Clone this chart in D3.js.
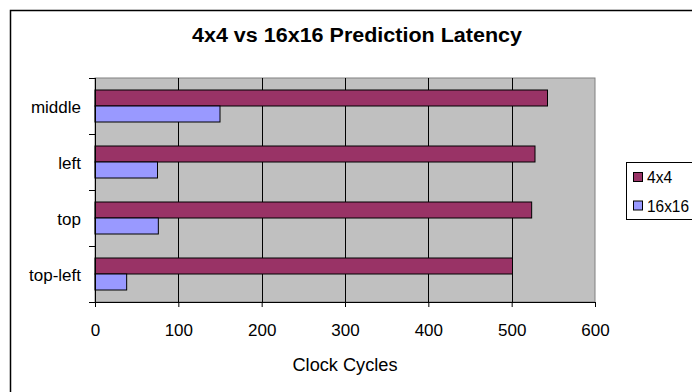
<!DOCTYPE html>
<html>
<head>
<meta charset="utf-8">
<script src="https://cdn.jsdelivr.net/npm/d3@7"></script>
<style>
  html, body { margin: 0; padding: 0; background: #fff; }
  svg { display: block; }
  text { font-family: "Liberation Sans", Arial, sans-serif; fill: #000; }
</style>
</head>
<body>
<svg id="chart" width="692" height="392"></svg>
<script>
// ---- data ----
const categories = ["middle", "left", "top", "top-left"];
const seriesNames = ["4x4", "16x16"];
const values4x4 = [543, 528, 524, 501];
const values16x16 = [150, 75, 76, 38];
const xTicks = [0, 100, 200, 300, 400, 500, 600];
const seriesColors = ["#993366", "#9999FF"];
const titleText = "4x4 vs 16x16 Prediction Latency";
const xTitle = "Clock Cycles";

const seriesValues = [values4x4, values16x16];
const rows = categories.map((c, i) => ({
  cat: c,
  vals: seriesNames.map((s, j) => ({ series: s, value: seriesValues[j][i], color: seriesColors[j] }))
}));

const svg = d3.select("#chart");

// outer border
svg.append("rect")
  .attr("x", 10.5).attr("y", 10.5)
  .attr("width", 700).attr("height", 400)
  .attr("fill", "none").attr("stroke", "#000").attr("stroke-width", 1.5);

const plot = { left: 95, right: 595, top: 78, bottom: 302 };

const x = d3.scaleLinear().domain([0, 600]).range([plot.left, plot.right]);
const y = d3.scaleBand().domain(categories).range([plot.top, plot.bottom]).paddingInner(0).paddingOuter(0);
const y1 = d3.scaleBand().domain(seriesNames).range([0, y.bandwidth()]).paddingInner(0).paddingOuter(0.75);

// plot background
svg.append("rect")
  .attr("x", plot.left).attr("y", plot.top)
  .attr("width", plot.right - plot.left).attr("height", plot.bottom - plot.top)
  .attr("fill", "#C0C0C0").attr("stroke", "#808080").attr("stroke-width", 1);

// gridlines
svg.append("g").selectAll("line")
  .data(xTicks.filter(t => t > 0 && t < 600))
  .join("line")
  .attr("x1", d => Math.round(x(d)) + 0.5).attr("x2", d => Math.round(x(d)) + 0.5)
  .attr("y1", plot.top).attr("y2", plot.bottom)
  .attr("stroke", "#000").attr("stroke-width", 1);

// bars
const groups = svg.append("g").selectAll("g")
  .data(rows).join("g")
  .attr("transform", d => `translate(0,${y(d.cat)})`);

groups.selectAll("rect")
  .data(d => d.vals).join("rect")
  .attr("x", x(0))
  .attr("y", d => y1(d.series))
  .attr("width", d => x(d.value) - x(0))
  .attr("height", y1.bandwidth())
  .attr("fill", d => d.color)
  .attr("stroke", "#000").attr("stroke-width", 1);

// x axis
const xAxis = svg.append("g")
  .attr("transform", `translate(0,${plot.bottom})`)
  .call(d3.axisBottom(x).tickValues(xTicks).tickSize(5).tickSizeOuter(0).tickPadding(17));
xAxis.select(".domain").attr("stroke", "#000");
xAxis.selectAll(".tick line").attr("stroke", "#000");
xAxis.selectAll("text")
  .attr("font-size", 17).attr("fill", "#000")
  .attr("font-family", "\"Liberation Sans\", Arial, sans-serif");

// y axis (ticks at band boundaries)
svg.append("line")
  .attr("x1", plot.left + 0.5).attr("x2", plot.left + 0.5)
  .attr("y1", plot.top).attr("y2", plot.bottom)
  .attr("stroke", "#000");
const boundaries = categories.map(c => y(c)).concat([y.range()[1]]);
svg.append("g").selectAll("line")
  .data(boundaries).join("line")
  .attr("x1", plot.left - 6).attr("x2", plot.left)
  .attr("y1", d => d + 0.5).attr("y2", d => d + 0.5)
  .attr("stroke", "#000");

svg.append("g").selectAll("text")
  .data(categories).join("text")
  .attr("x", 81)
  .attr("y", d => y(d) + y.bandwidth() / 2 + 7)
  .attr("text-anchor", "end")
  .attr("font-size", 17)
  .text(d => d);

// title
svg.append("text")
  .attr("x", 357).attr("y", 42)
  .attr("text-anchor", "middle")
  .attr("font-size", 20).attr("font-weight", "bold")
  .attr("textLength", 330).attr("lengthAdjust", "spacingAndGlyphs")
  .text(titleText);

// x-axis title
svg.append("text")
  .attr("x", 345).attr("y", 371)
  .attr("text-anchor", "middle")
  .attr("font-size", 18)
  .attr("textLength", 105).attr("lengthAdjust", "spacingAndGlyphs")
  .text(xTitle);

// legend
const legend = svg.append("g");
legend.append("rect")
  .attr("x", 626.5).attr("y", 162.5).attr("width", 90).attr("height", 57)
  .attr("fill", "#fff").attr("stroke", "#000");
const li = legend.selectAll("g.item")
  .data(seriesNames).join("g")
  .attr("class", "item")
  .attr("transform", (d, i) => `translate(0,${i * 28.5})`);
li.append("rect")
  .attr("x", 633.5).attr("y", 172.5).attr("width", 9).attr("height", 9)
  .attr("fill", (d, i) => seriesColors[i]).attr("stroke", "#000");
li.append("text")
  .attr("x", 647).attr("y", 183)
  .attr("font-size", 17)
  .attr("textLength", d => d.length * 8.4)
  .attr("lengthAdjust", "spacingAndGlyphs")
  .text(d => d);
</script>
</body>
</html>
